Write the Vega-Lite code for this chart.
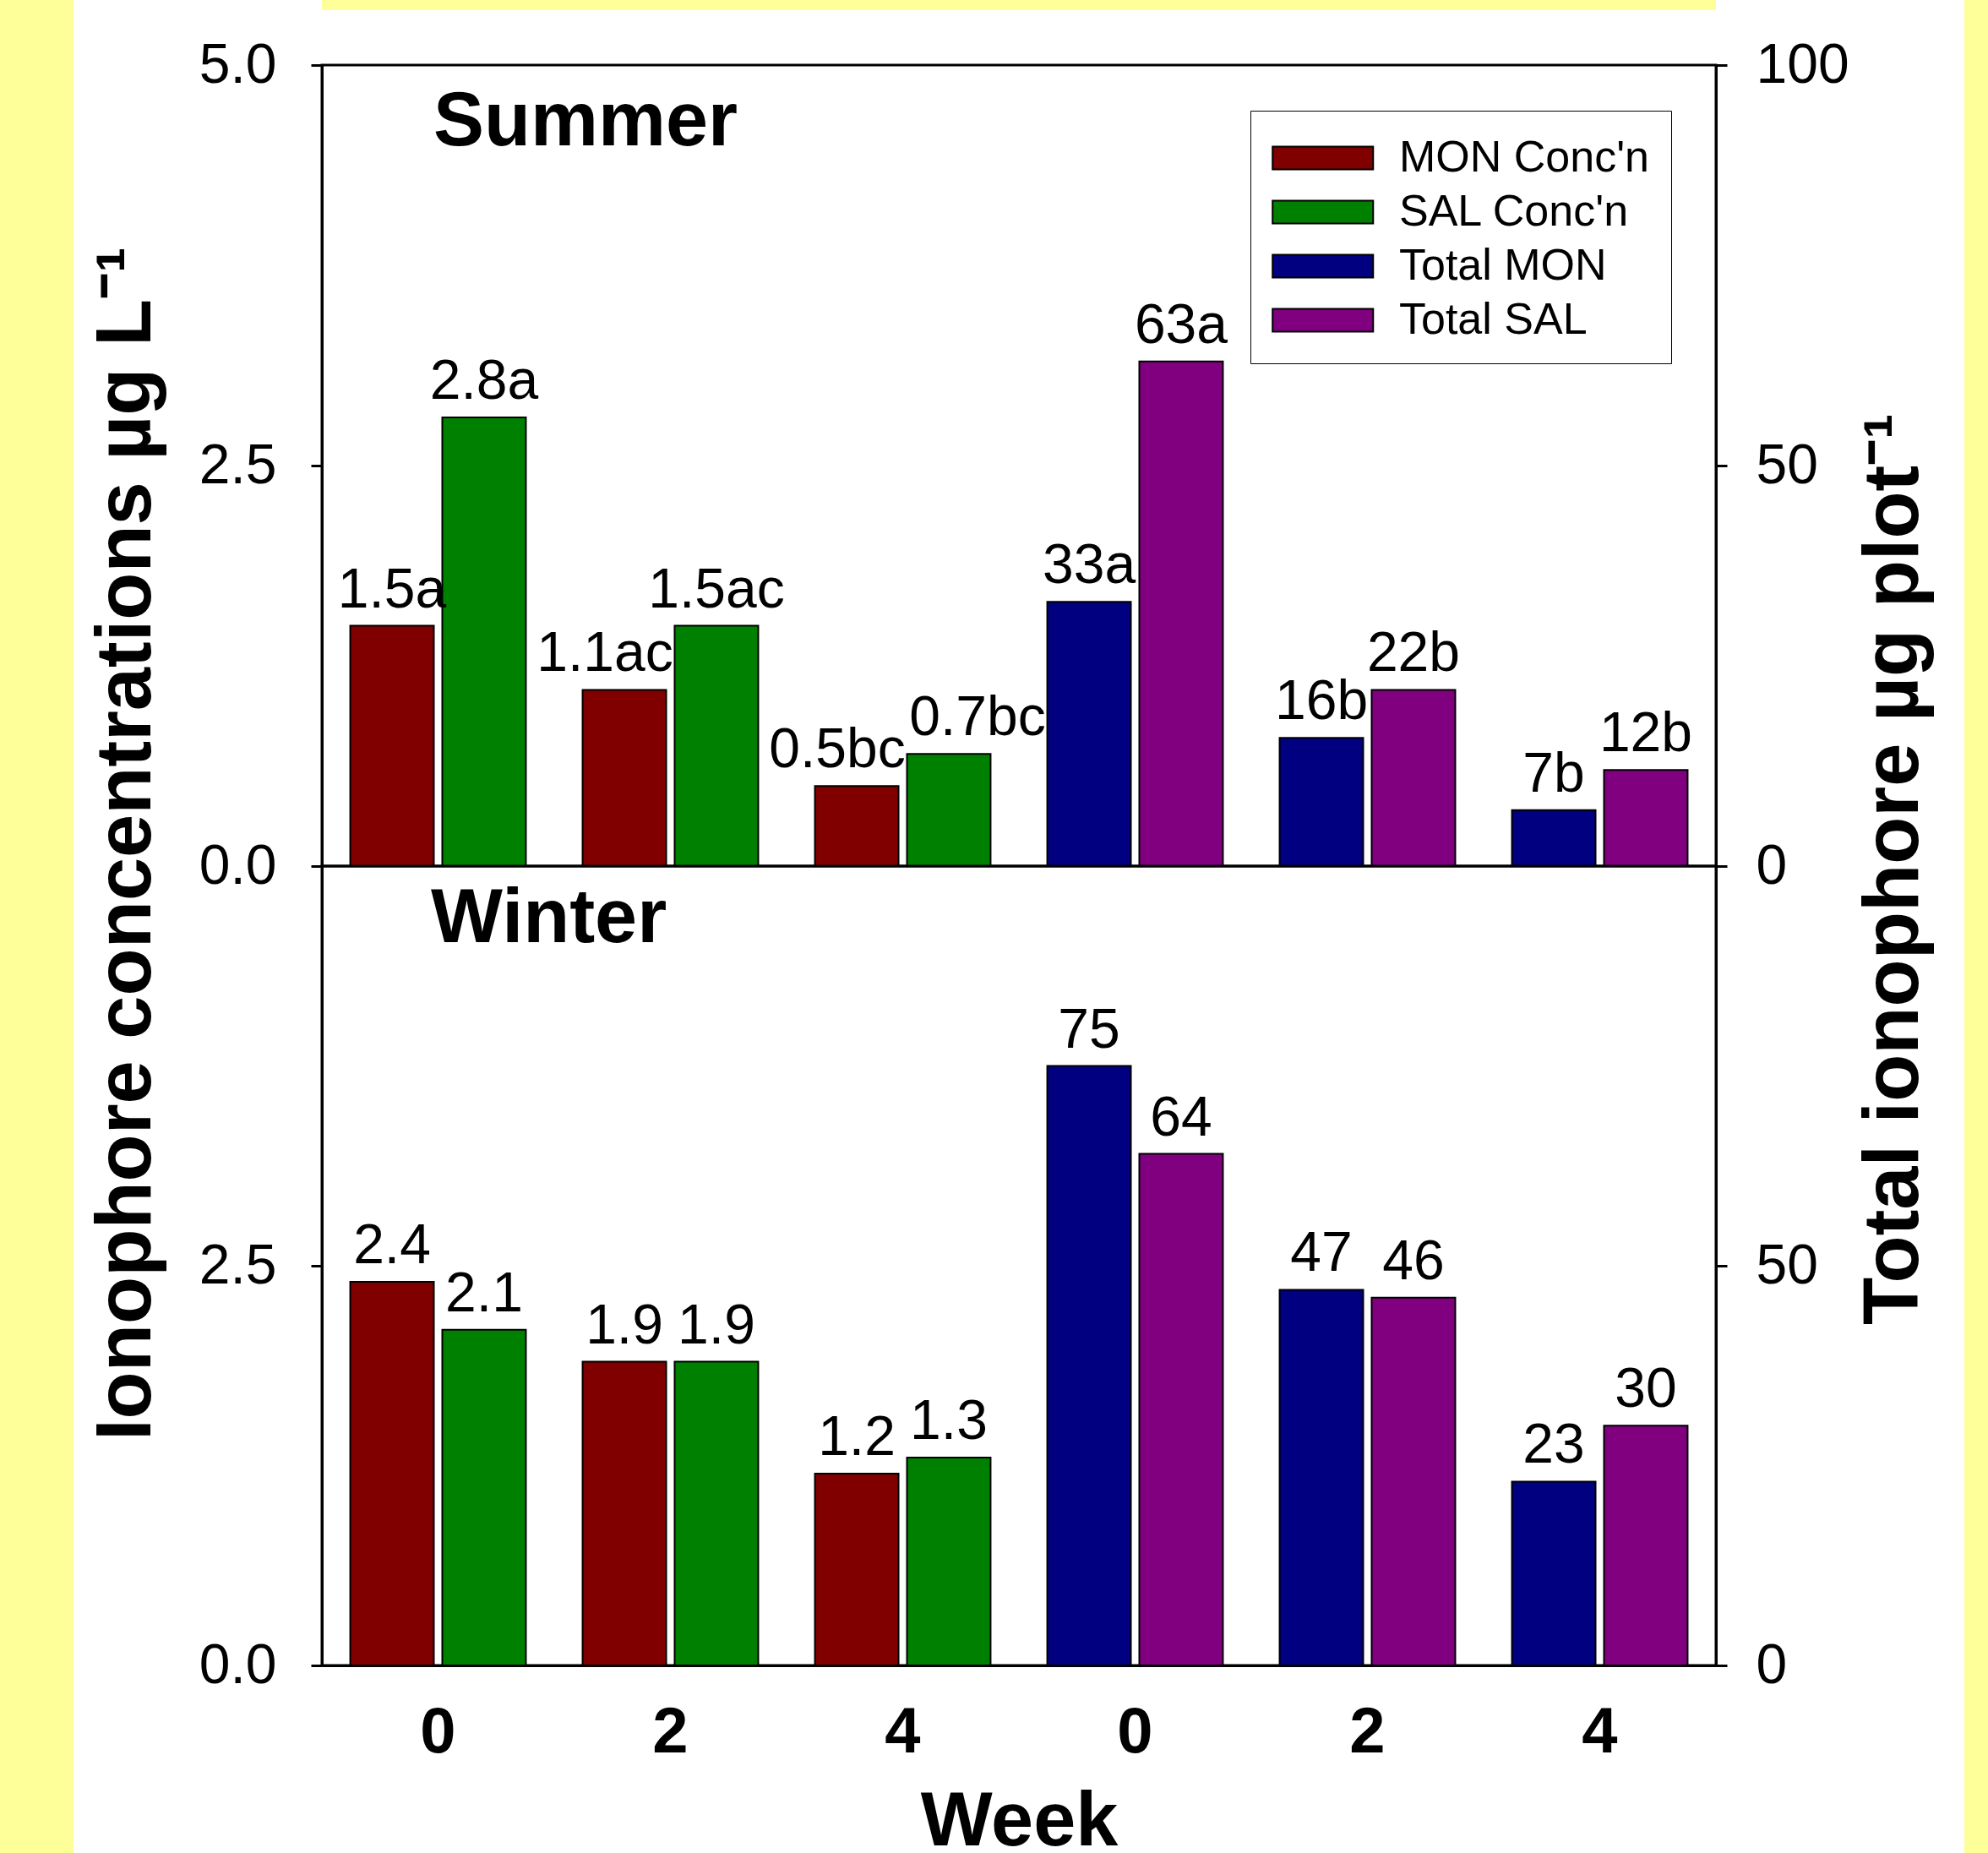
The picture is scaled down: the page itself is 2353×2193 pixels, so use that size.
{
  "$schema": "https://vega.github.io/schema/vega-lite/v6.json",
  "background": "white",
  "padding": {"left": 0, "top": 0, "right": 0, "bottom": 0},
  "bounds": "flush",
  "columns": 3,
  "spacing": {"row": 0, "column": 294},
  "config": {
    "font": "Liberation Sans",
    "view": {"stroke": "black", "strokeWidth": 3},
    "axis": {"labelColor": "black", "titleColor": "black", "domainColor": "black", "tickColor": "black", "domainWidth": 3, "tickWidth": 3, "grid": false, "labelFont": "Liberation Sans", "titleFont": "Liberation Sans"}
  },
  "datasets": {
    "none": [],
    "summerConc": [
      {"g": "C0", "compound": "MON", "m": "MON Conc'n", "v": 1.5, "lab": "1.5a"},
      {"g": "C0", "compound": "SAL", "m": "SAL Conc'n", "v": 2.8, "lab": "2.8a"},
      {"g": "C2", "compound": "MON", "m": "MON Conc'n", "v": 1.1, "lab": "1.1ac"},
      {"g": "C2", "compound": "SAL", "m": "SAL Conc'n", "v": 1.5, "lab": "1.5ac"},
      {"g": "C4", "compound": "MON", "m": "MON Conc'n", "v": 0.5, "lab": "0.5bc"},
      {"g": "C4", "compound": "SAL", "m": "SAL Conc'n", "v": 0.7, "lab": "0.7bc"}
    ],
    "summerTot": [
      {"g": "T0", "compound": "MON", "m": "Total MON", "v": 33, "lab": "33a"},
      {"g": "T0", "compound": "SAL", "m": "Total SAL", "v": 63, "lab": "63a"},
      {"g": "T2", "compound": "MON", "m": "Total MON", "v": 16, "lab": "16b"},
      {"g": "T2", "compound": "SAL", "m": "Total SAL", "v": 22, "lab": "22b"},
      {"g": "T4", "compound": "MON", "m": "Total MON", "v": 7, "lab": "7b"},
      {"g": "T4", "compound": "SAL", "m": "Total SAL", "v": 12, "lab": "12b"}
    ],
    "winterConc": [
      {"g": "C0", "compound": "MON", "m": "MON Conc'n", "v": 2.4, "lab": "2.4"},
      {"g": "C0", "compound": "SAL", "m": "SAL Conc'n", "v": 2.1, "lab": "2.1"},
      {"g": "C2", "compound": "MON", "m": "MON Conc'n", "v": 1.9, "lab": "1.9"},
      {"g": "C2", "compound": "SAL", "m": "SAL Conc'n", "v": 1.9, "lab": "1.9"},
      {"g": "C4", "compound": "MON", "m": "MON Conc'n", "v": 1.2, "lab": "1.2"},
      {"g": "C4", "compound": "SAL", "m": "SAL Conc'n", "v": 1.3, "lab": "1.3"}
    ],
    "winterTot": [
      {"g": "T0", "compound": "MON", "m": "Total MON", "v": 75, "lab": "75"},
      {"g": "T0", "compound": "SAL", "m": "Total SAL", "v": 64, "lab": "64"},
      {"g": "T2", "compound": "MON", "m": "Total MON", "v": 47, "lab": "47"},
      {"g": "T2", "compound": "SAL", "m": "Total SAL", "v": 46, "lab": "46"},
      {"g": "T4", "compound": "MON", "m": "Total MON", "v": 23, "lab": "23"},
      {"g": "T4", "compound": "SAL", "m": "Total SAL", "v": 30, "lab": "30"}
    ]
  },
  "concat": [
    {"width": 87, "height": 12, "view": {"fill": "#FFFF99", "stroke": null}, "data": {"name": "none"}, "mark": "rect", "encoding": {}},
    {"width": 1650, "height": 12, "view": {"fill": "#FFFF99", "stroke": null}, "data": {"name": "none"}, "mark": "rect", "encoding": {}},
    {"width": 28, "height": 12, "view": {"fill": "#FFFF99", "stroke": null}, "data": {"name": "none"}, "mark": "rect", "encoding": {}},
    {"width": 87, "height": 65, "view": {"fill": "#FFFF99", "stroke": null}, "data": {"name": "none"}, "mark": "rect", "encoding": {}},
    {"width": 1650, "height": 65, "view": {"fill": null, "stroke": null}, "data": {"name": "none"}, "mark": "rect", "encoding": {}},
    {"width": 28, "height": 65, "view": {"fill": "#FFFF99", "stroke": null}, "data": {"name": "none"}, "mark": "rect", "encoding": {}},
    {"width": 87, "height": 948, "view": {"fill": "#FFFF99", "stroke": null}, "data": {"name": "none"}, "mark": "rect", "encoding": {}},
    {
      "width": 1650,
      "height": 948,
      "title": {"text": "Summer", "anchor": "start", "frame": "group", "orient": "top", "offset": -218, "dx": 132, "fontSize": 90, "fontWeight": "bold", "baseline": "alphabetic", "color": "black", "font": "Liberation Sans"},
      "layer": [
        {
          "data": {"name": "summerConc"},
          "encoding": {
            "x": {"field": "g", "type": "nominal", "scale": {"domain": ["C0", "C2", "C4", "T0", "T2", "T4"], "paddingInner": 0.244, "paddingOuter": 0.122}, "axis": null},
            "xOffset": {"field": "compound", "type": "nominal", "scale": {"domain": ["MON", "SAL"], "paddingInner": 0.0917, "paddingOuter": 0}},
            "y": {"field": "v", "type": "quantitative", "scale": {"domain": [0, 5], "nice": false, "zero": true},
              "axis": {"orient": "left", "values": [0, 2.5, 5], "format": ".1f", "tickSize": 13, "labelFontSize": 66, "labelPadding": 41,
                "title": "Ionophore concentrations µg L⁻¹", "titleFontSize": 92, "titleFontWeight": "bold", "titleAngle": 270, "titleAlign": "center", "titleBaseline": "alphabetic", "titleX": -204, "titleY": 921}}
          },
          "layer": [
            {"mark": {"type": "bar", "stroke": "black", "strokeWidth": 2},
             "encoding": {"color": {"field": "m", "type": "nominal", "scale": {"domain": ["MON Conc'n", "SAL Conc'n", "Total MON", "Total SAL"], "range": ["#800000", "#008000", "#000080", "#800080"]},
               "legend": {"orient": "none", "legendX": 1099, "legendY": 54, "title": null, "strokeColor": "black", "fillColor": "white", "padding": 25,
                 "symbolType": "M-1,-0.45H3V0.45H-1Z", "symbolSize": 3540, "symbolStrokeColor": "black", "symbolStrokeWidth": 2, "symbolOpacity": 1,
                 "labelFontSize": 52, "labelColor": "black", "labelOffset": 89, "labelLimit": 600, "rowPadding": 7, "labelFont": "Liberation Sans"}}}},
            {"transform": [{"filter": "datum.lab != '1.1ac' && datum.lab != '0.5bc' && datum.lab != '0.7bc'"}],
             "mark": {"type": "text", "baseline": "alphabetic", "dy": -22, "fontSize": 66, "color": "black", "font": "Liberation Sans"},
             "encoding": {"text": {"field": "lab"}}},
            {"transform": [{"filter": "datum.lab == '1.1ac' || datum.lab == '0.5bc'"}],
             "mark": {"type": "text", "baseline": "alphabetic", "dy": -22, "dx": -23, "fontSize": 66, "color": "black", "font": "Liberation Sans"},
             "encoding": {"text": {"field": "lab"}}},
            {"transform": [{"filter": "datum.lab == '0.7bc'"}],
             "mark": {"type": "text", "baseline": "alphabetic", "dy": -22, "dx": 34, "fontSize": 66, "color": "black", "font": "Liberation Sans"},
             "encoding": {"text": {"field": "lab"}}}
          ]
        },
        {
          "data": {"name": "summerTot"},
          "encoding": {
            "x": {"field": "g", "type": "nominal", "scale": {"domain": ["C0", "C2", "C4", "T0", "T2", "T4"], "paddingInner": 0.244, "paddingOuter": 0.122}, "axis": null},
            "xOffset": {"field": "compound", "type": "nominal", "scale": {"domain": ["MON", "SAL"], "paddingInner": 0.0917, "paddingOuter": 0}},
            "y": {"field": "v", "type": "quantitative", "scale": {"domain": [0, 100], "nice": false},
              "axis": {"orient": "right", "values": [0, 50, 100], "format": "d", "tickSize": 13, "labelFontSize": 66, "labelPadding": 34,
                "title": "Total ionophore µg plot⁻¹", "titleFontSize": 92, "titleFontWeight": "bold", "titleAngle": 270, "titleAlign": "center", "titleBaseline": "alphabetic", "titleX": 238, "titleY": 951}}
          },
          "layer": [
            {"mark": {"type": "bar", "stroke": "black", "strokeWidth": 2},
             "encoding": {"color": {"field": "m", "type": "nominal", "scale": {"domain": ["MON Conc'n", "SAL Conc'n", "Total MON", "Total SAL"], "range": ["#800000", "#008000", "#000080", "#800080"]}}}},
            {"mark": {"type": "text", "baseline": "alphabetic", "dy": -22, "fontSize": 66, "color": "black", "font": "Liberation Sans"},
             "encoding": {"text": {"field": "lab"}}}
          ]
        }
      ],
      "resolve": {"scale": {"y": "independent"}}
    },
    {"width": 28, "height": 948, "view": {"fill": "#FFFF99", "stroke": null}, "data": {"name": "none"}, "mark": "rect", "encoding": {}},
    {"width": 87, "height": 1170, "view": {"fill": "#FFFF99", "stroke": null}, "data": {"name": "none"}, "mark": "rect", "encoding": {}},
    {
      "width": 1650,
      "height": 946,
      "title": {"text": "Winter", "anchor": "start", "frame": "group", "orient": "top", "offset": -180, "dx": 129, "fontSize": 90, "fontWeight": "bold", "baseline": "alphabetic", "color": "black", "font": "Liberation Sans"},
      "layer": [
        {
          "data": {"name": "winterConc"},
          "encoding": {
            "x": {"field": "g", "type": "nominal", "scale": {"domain": ["C0", "C2", "C4", "T0", "T2", "T4"], "paddingInner": 0.244, "paddingOuter": 0.122},
              "axis": {"title": "Week", "labelExpr": "substring(datum.label, 1)", "labelAngle": 0, "labelFontSize": 76, "labelFontWeight": "bold", "ticks": false, "tickSize": 0, "labelPadding": 42,
                "titleFontSize": 90, "titleFontWeight": "bold", "titleBaseline": "alphabetic", "titleY": 212}},
            "xOffset": {"field": "compound", "type": "nominal", "scale": {"domain": ["MON", "SAL"], "paddingInner": 0.0917, "paddingOuter": 0}},
            "y": {"field": "v", "type": "quantitative", "scale": {"domain": [0, 5], "nice": false},
              "axis": {"orient": "left", "values": [0, 2.5], "format": ".1f", "tickSize": 13, "labelFontSize": 66, "labelPadding": 41, "title": null}}
          },
          "layer": [
            {"mark": {"type": "bar", "stroke": "black", "strokeWidth": 2},
             "encoding": {"color": {"field": "m", "type": "nominal", "scale": {"domain": ["MON Conc'n", "SAL Conc'n", "Total MON", "Total SAL"], "range": ["#800000", "#008000", "#000080", "#800080"]}, "legend": null}}},
            {"mark": {"type": "text", "baseline": "alphabetic", "dy": -22, "fontSize": 66, "color": "black", "font": "Liberation Sans"},
             "encoding": {"text": {"field": "lab"}}}
          ]
        },
        {
          "data": {"name": "winterTot"},
          "encoding": {
            "x": {"field": "g", "type": "nominal", "scale": {"domain": ["C0", "C2", "C4", "T0", "T2", "T4"], "paddingInner": 0.244, "paddingOuter": 0.122}},
            "xOffset": {"field": "compound", "type": "nominal", "scale": {"domain": ["MON", "SAL"], "paddingInner": 0.0917, "paddingOuter": 0}},
            "y": {"field": "v", "type": "quantitative", "scale": {"domain": [0, 100], "nice": false},
              "axis": {"orient": "right", "values": [0, 50], "format": "d", "tickSize": 13, "labelFontSize": 66, "labelPadding": 34, "title": null}}
          },
          "layer": [
            {"mark": {"type": "bar", "stroke": "black", "strokeWidth": 2},
             "encoding": {"color": {"field": "m", "type": "nominal", "scale": {"domain": ["MON Conc'n", "SAL Conc'n", "Total MON", "Total SAL"], "range": ["#800000", "#008000", "#000080", "#800080"]}, "legend": null}}},
            {"mark": {"type": "text", "baseline": "alphabetic", "dy": -22, "fontSize": 66, "color": "black", "font": "Liberation Sans"},
             "encoding": {"text": {"field": "lab"}}}
          ]
        }
      ],
      "resolve": {"scale": {"y": "independent"}}
    },
    {"width": 28, "height": 1170, "view": {"fill": "#FFFF99", "stroke": null}, "data": {"name": "none"}, "mark": "rect", "encoding": {}}
  ],
  "resolve": {"scale": {"color": "independent", "x": "independent", "xOffset": "independent", "y": "independent"}, "legend": {"color": "independent"}}
}
